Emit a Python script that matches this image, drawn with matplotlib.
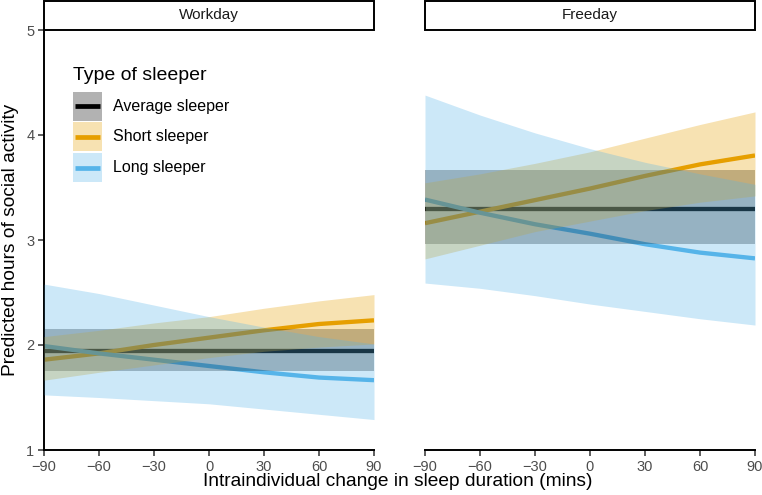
import numpy as np
import matplotlib.pyplot as plt
from matplotlib.patches import Rectangle
from matplotlib.lines import Line2D

plt.rcParams['font.family'] = ['Liberation Sans', 'DejaVu Sans']

# sleep change (mins)
x = [-90, -60, -30, 0, 30, 60, 90]
days = ['Workday', 'Freeday']

# Workday estimates
work_avg = [1.94] * 7
work_avg_lo = [1.75] * 7
work_avg_hi = [2.15] * 7
work_short = [1.86, 1.92, 2.00, 2.07, 2.14, 2.20, 2.235]
work_short_lo = [1.665, 1.74, 1.81, 1.88, 1.94, 1.98, 2.01]
work_short_hi = [2.08, 2.14, 2.21, 2.27, 2.35, 2.42, 2.48]
work_long = [1.99, 1.92, 1.86, 1.80, 1.74, 1.69, 1.665]
work_long_lo = [1.525, 1.50, 1.47, 1.44, 1.39, 1.34, 1.29]
work_long_hi = [2.58, 2.49, 2.38, 2.27, 2.17, 2.08, 2.01]

# Freeday estimates
free_avg = [3.30] * 7
free_avg_lo = [2.965] * 7
free_avg_hi = [3.665] * 7
free_short = [3.16, 3.27, 3.38, 3.49, 3.61, 3.72, 3.805]
free_short_lo = [2.82, 2.95, 3.08, 3.18, 3.28, 3.36, 3.42]
free_short_hi = [3.545, 3.63, 3.73, 3.84, 3.97, 4.10, 4.22]
free_long = [3.385, 3.26, 3.15, 3.06, 2.96, 2.88, 2.825]
free_long_lo = [2.59, 2.54, 2.47, 2.39, 2.32, 2.25, 2.19]
free_long_hi = [4.38, 4.19, 4.02, 3.87, 3.74, 3.63, 3.53]

groups = ['Average sleeper', 'Short sleeper', 'Long sleeper']
colors = ['#000000', '#E69F00', '#56B4E9']

panels = {
    'Workday': [(work_avg, work_avg_lo, work_avg_hi),
                (work_short, work_short_lo, work_short_hi),
                (work_long, work_long_lo, work_long_hi)],
    'Freeday': [(free_avg, free_avg_lo, free_avg_hi),
                (free_short, free_short_lo, free_short_hi),
                (free_long, free_long_lo, free_long_hi)],
}

W, H = 762, 495
fig = plt.figure(figsize=(W / 100, H / 100), dpi=100)

def px_box(x0, x1, ytop, ybot):
    return [x0 / W, 1 - ybot / H, (x1 - x0) / W, (ybot - ytop) / H]

ax_l = fig.add_axes(px_box(44, 374, 30, 450))
ax_r = fig.add_axes(px_box(425, 755, 30, 450))
ALPHA = 0.3

for ax, day, (x0, x1) in [(ax_l, 'Workday', (44, 374)), (ax_r, 'Freeday', (425, 755))]:
    # lines first, ribbons drawn on top of them
    for (mid, lo, hi), c in zip(panels[day], colors):
        ax.plot(x, mid, color=c, lw=3.1, zorder=2, solid_capstyle='butt')
    for (mid, lo, hi), c in zip(panels[day], colors):
        ax.fill_between(x, lo, hi, color=c, alpha=ALPHA, lw=0, zorder=3)
    ax.set_xlim(-90, 90)
    ax.set_ylim(1, 5)
    ax.set_xticks([-90, -60, -30, 0, 30, 60, 90])
    ax.set_xticklabels(['\u221290', '\u221260', '\u221230', '0', '30', '60', '90'])
    ax.set_yticks([1, 2, 3, 4, 5])
    for s in ['top', 'right']:
        ax.spines[s].set_visible(False)
    ax.spines['bottom'].set_linewidth(1.4)
    ax.spines['left'].set_linewidth(1.4)
    ax.tick_params(labelsize=10.5, labelcolor='#4D4D4D', color='#333333',
                   length=4, width=1.1, pad=3)
    # facet strip
    fig.patches.append(Rectangle((x0 / W, 1 - 30 / H), (x1 - x0) / W, 29 / H,
                                 transform=fig.transFigure, facecolor='white',
                                 edgecolor='black', lw=1.4))
    fig.text((x0 + x1) / 2 / W, 1 - 15.5 / H, day, ha='center', va='center',
             fontsize=11, color='#1A1A1A')

ax_r.spines['left'].set_visible(False)
ax_r.tick_params(axis='y', left=False, labelleft=False)

fig.text(398 / W, 1 - 481 / H, 'Intraindividual change in sleep duration (mins)',
         ha='center', va='center', fontsize=13.8)
fig.text(11 / W, 1 - 240 / H, 'Predicted hours of social activity',
         ha='center', va='center', rotation=90, fontsize=13.8)

# legend drawn by hand in pixel positions
fig.text(73 / W, 1 - 80 / H, 'Type of sleeper', ha='left', va='baseline', fontsize=14)
key_tops = [92, 122.5, 153.5]
for grp, c, top in zip(groups, colors, key_tops):
    fig.patches.append(Rectangle((73 / W, 1 - (top + 28.5) / H), 28.5 / W, 28.5 / H,
                                 transform=fig.transFigure, facecolor=c,
                                 alpha=ALPHA, lw=0))
    yc = 1 - (top + 14.2) / H
    fig.lines.append(Line2D([75 / W, 99.5 / W], [yc, yc], transform=fig.transFigure,
                            color=c, lw=3.4, solid_capstyle='butt'))
    fig.text(113 / W, yc, grp, ha='left', va='center', fontsize=11.5)

fig.savefig('out.png', dpi=100)
